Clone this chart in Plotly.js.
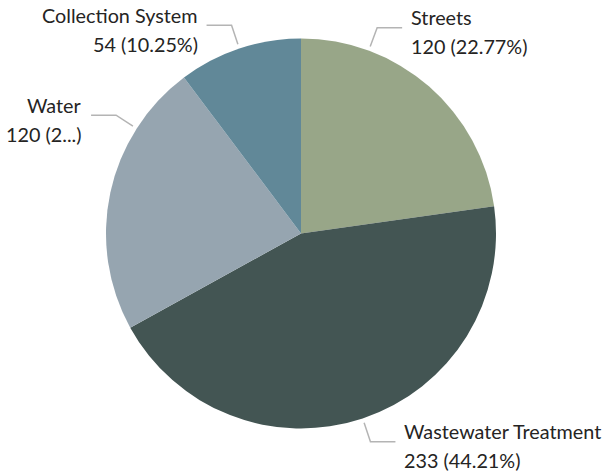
<!DOCTYPE html>
<html>
<head>
<meta charset="utf-8">
<script src="https://cdn.plot.ly/plotly-3.0.1.min.js"></script>
<style>html,body{margin:0;padding:0;background:#fff;}</style>
</head>
<body>
<div id="chart" style="width:604px;height:476px;"></div>
<script>
// ---- data ----
const categories = ['Streets', 'Wastewater Treatment', 'Water', 'Collection System'];
const values = [120, 233, 120, 54];
const sliceColors = ['#98a688', '#435553', '#96a5b0', '#618898'];

// ---- layout settings ----
const W = 604, H = 476;
const cx = 301, cy = 233.5, R = 195;
// label leader angle adjustments (degrees, clockwise from 12 o'clock) for collision avoidance
const leaderAngleOverride = {'Streets': 20.3, 'Water': 302.6};
const maxValueLineChars = {'Water': 6};
const fontFamily = 'Lato, "Open Sans", sans-serif';
const fontSize = 19.8;
const textColor = '#252423';
const lineColor = '#b4b4b4';

const total = values.reduce((a, b) => a + b, 0);
const px = x => x / W;
const py = y => 1 - y / H;

const shapes = [];
const annotations = [];
let cum = 0;
categories.forEach((cat, i) => {
  const v = values[i];
  const mid = (cum + v / 2) / total * 360;
  cum += v;
  const ang = (leaderAngleOverride[cat] !== undefined ? leaderAngleOverride[cat] : mid) * Math.PI / 180;
  const r1 = R + 4.5, r2 = R + 24.5;
  const x1 = cx + r1 * Math.sin(ang), y1 = cy - r1 * Math.cos(ang);
  const x2 = cx + r2 * Math.sin(ang), y2 = cy - r2 * Math.cos(ang);
  const right = Math.sin(ang) >= 0;
  const x3 = x2 + (right ? 25 : -25);
  shapes.push({type: 'path', xref: 'paper', yref: 'paper',
    path: `M ${px(x1)} ${py(y1)} L ${px(x2)} ${py(y2)} L ${px(x3)} ${py(y2)}`,
    line: {color: lineColor, width: 1.5}});
  const pct = (v / total * 100).toFixed(2);
  let line2 = `${v} (${pct}%)`;
  if (maxValueLineChars[cat]) line2 = line2.slice(0, maxValueLineChars[cat]) + '...)';
  const tx = x3 + (right ? 8 : -8);
  const base1 = y2 - 3, base2 = base1 + 29;
  [[cat, base1], [line2, base2]].forEach(([t, b]) => {
    annotations.push({
      text: t, xref: 'paper', yref: 'paper', x: px(tx), y: py(b - 7.5),
      xanchor: right ? 'left' : 'right', yanchor: 'middle', showarrow: false,
      align: right ? 'left' : 'right', borderpad: 0,
      font: {family: fontFamily, size: fontSize, color: textColor}
    });
  });
});

const trace = {
  type: 'pie',
  labels: categories,
  values: values,
  sort: false,
  direction: 'clockwise',
  rotation: 0,
  textinfo: 'none',
  hoverinfo: 'label+value+percent',
  marker: {colors: sliceColors, line: {width: 0}},
  domain: {x: [(cx - R) / W, (cx + R) / W], y: [1 - (cy + R) / H, 1 - (cy - R) / H]}
};

Plotly.newPlot('chart', [trace], {
  width: W, height: H,
  margin: {l: 0, r: 0, t: 0, b: 0, autoexpand: false},
  showlegend: false,
  paper_bgcolor: '#ffffff',
  shapes: shapes,
  annotations: annotations
}, {displayModeBar: false, staticPlot: true});
</script>
</body>
</html>
